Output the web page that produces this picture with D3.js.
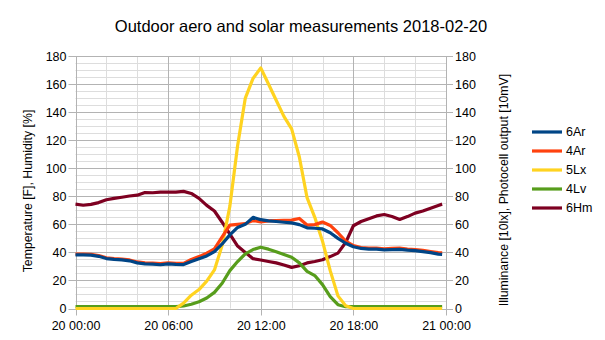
<!DOCTYPE html>
<html>
<head>
<meta charset="utf-8">
<script src="https://cdn.jsdelivr.net/npm/d3@7"></script>
<style>
  html, body { margin: 0; padding: 0; background: #fff; }
  svg { display: block; font-family: "Liberation Sans", Arial, sans-serif; }
</style>
</head>
<body>
<svg id="chart" width="605" height="340"></svg>
<script>
// Sample times, hours since 2018-02-20 00:00
const hours = [0,0.5,1,1.5,2,2.5,3,3.5,4,4.5,5,5.5,6,6.5,7,7.5,8,8.5,9,9.5,10,10.5,11,11.5,
  12,12.5,13,13.5,14,14.5,15,15.5,16,16.5,17,17.5,18,18.5,19,19.5,20,20.5,21,21.5,22,22.5,23,23.5,23.75];

const seriesNames = ["6Ar", "4Ar", "5Lx", "4Lv", "6Hm"];

const ar6 = [38.2,38.2,38,37.2,35.6,35,34.6,34,32.5,31.8,31.6,31.2,31.8,31.4,31.3,33.5,35.5,37.5,40.5,46,52.5,57.8,60,65,
  63.3,62.5,62,61.5,61,59.8,57.5,57.2,56.7,54,50,46.5,44,42.8,42.3,42.3,41.8,42,42.2,41.6,41.2,40.5,39.8,38.8,38.6];
const ar4 = [38.8,38.8,38.6,37.8,36.2,35.6,35.2,34.6,33.2,32.6,32.3,32,32.6,32.2,32.2,35,37,39.5,42.5,51,59.5,60,60.5,62.7,
  61.8,62.5,62.7,62.8,63,64.2,59.5,59.8,61.6,59.2,54,48,44.8,43.5,43,43,42.6,42.8,43,42.4,42,41.4,40.6,39.8,39.6];
const lx5 = [0,0,0,0,0,0,0,0,0,0,0,0,0,0,3.8,9.5,13.5,19.5,27.5,45,73,116,150,164,
  171.5,160,148.5,137,128,108,79,65,48,27,9,2,0,0,0,0,0,0,0,0,0,0,0,0,0];
const lv4 = [1.3,1.3,1.3,1.3,1.3,1.3,1.3,1.3,1.3,1.3,1.3,1.3,1.3,1.3,1.8,3,4.8,7.5,11.5,18,27,33.5,39,42,
  43.7,42.3,40.5,38.5,36.5,32.5,26.5,23.5,17,8.5,2.7,1.3,1.3,1.3,1.3,1.3,1.3,1.3,1.3,1.3,1.3,1.3,1.3,1.3,1.3];
const hm6 = [74.4,73.6,74.2,75.5,77.5,78.5,79.3,80.2,80.8,82.7,82.5,83,83,83,83.5,82,78.5,73.5,69.5,61.5,53,44.5,40,35.5,
  34.6,33.5,32.5,31,29.3,30.5,32.5,33.5,34.8,37,39.5,47,59,62,64,66,67,65.6,63.5,65.5,68,69.5,71.5,73.5,74.4];

const seriesValues = [ar6, ar4, lx5, lv4, hm6];
const seriesColors = ["#004586", "#ff420e", "#ffd320", "#579d1c", "#7e0021"];

const xTickHours = [0, 6, 12, 18, 24];
const xTickLabels = ["20 00:00", "20 06:00", "20 12:00", "20 18:00", "21 00:00"];
const yTicks = [0, 20, 40, 60, 80, 100, 120, 140, 160, 180];

const titleText = "Outdoor aero and solar measurements 2018-02-20";
const leftTitle = "Temperature [F], Humidity [%]";
const rightTitle = "Illuminance [10lx], Photocell output [10mV]";

const plot = { left: 75.5, right: 446, top: 56, bottom: 308.5 };

const svg = d3.select("#chart");
const x = d3.scaleLinear().domain([0, 24]).range([plot.left, plot.right]);
const y = d3.scaleLinear().domain([0, 180]).range([plot.bottom, plot.top]);
const crisp = v => Math.round(v) + 0.5;

// Grid: minor lines first, then major lines
const grid = svg.append("g");
grid.selectAll(".hmin").data(d3.range(0, 181, 5).filter(v => v % 20 !== 0)).enter()
  .append("line").attr("x1", plot.left).attr("x2", plot.right)
  .attr("y1", d => crisp(y(d))).attr("y2", d => crisp(y(d)))
  .attr("stroke", "#dddddd").attr("stroke-width", 1);
grid.selectAll(".vmin").data(d3.range(0, 25, 2).filter(v => v % 6 !== 0)).enter()
  .append("line").attr("y1", plot.top).attr("y2", plot.bottom)
  .attr("x1", d => crisp(x(d))).attr("x2", d => crisp(x(d)))
  .attr("stroke", "#dddddd").attr("stroke-width", 1);
grid.selectAll(".hmaj").data(yTicks).enter()
  .append("line").attr("x1", plot.left - 7).attr("x2", plot.right + 7)
  .attr("y1", d => crisp(y(d))).attr("y2", d => crisp(y(d)))
  .attr("stroke", "#b3b3b3").attr("stroke-width", 1);
grid.selectAll(".vmaj").data(xTickHours).enter()
  .append("line").attr("y1", plot.top).attr("y2", plot.bottom + 7)
  .attr("x1", d => crisp(x(d))).attr("x2", d => crisp(x(d)))
  .attr("stroke", "#b3b3b3").attr("stroke-width", 1);

// Axis labels
const fontSize = 12.5;
const leftAxis = d3.axisLeft(y).tickValues(yTicks).tickSize(0).tickPadding(9);
const rightAxis = d3.axisRight(y).tickValues(yTicks).tickSize(0).tickPadding(9);
const bottomAxis = d3.axisBottom(x).tickValues(xTickHours).tickSize(0).tickPadding(13)
  .tickFormat((d, i) => xTickLabels[i]);

function styleAxis(g) {
  g.select(".domain").remove();
  g.selectAll("text").attr("fill", "#000").style("font-size", fontSize + "px")
    .style("font-family", "'Liberation Sans', Arial, sans-serif");
}
svg.append("g").attr("transform", `translate(${plot.left},0)`).call(leftAxis).call(styleAxis);
svg.append("g").attr("transform", `translate(${plot.right},0)`).call(rightAxis).call(styleAxis);
svg.append("g").attr("transform", `translate(0,${plot.bottom})`).call(bottomAxis).call(styleAxis);

// Series lines (later legend entries drawn underneath)
const line = d3.line().x((d, i) => x(hours[i])).y(d => y(d));
const lines = svg.append("g");
for (let s = seriesNames.length - 1; s >= 0; s--) {
  lines.append("path").datum(seriesValues[s])
    .attr("d", line).attr("fill", "none")
    .attr("stroke", seriesColors[s]).attr("stroke-width", 3.2)
    .attr("stroke-linejoin", "round").attr("stroke-linecap", "butt");
}

// Titles
svg.append("text").attr("x", 301).attr("y", 32).attr("text-anchor", "middle")
  .style("font-size", "16.5px").attr("fill", "#000").text(titleText);
svg.append("text").attr("transform", "translate(28,191) rotate(-90)")
  .attr("text-anchor", "middle").attr("dominant-baseline", "central")
  .style("font-size", "12.3px").attr("fill", "#000").text(leftTitle);
svg.append("text").attr("transform", "translate(504,190) rotate(-90)")
  .attr("text-anchor", "middle").attr("dominant-baseline", "central")
  .style("font-size", "12.3px").attr("fill", "#000").text(rightTitle);

// Legend
const legend = svg.append("g");
seriesNames.forEach((name, i) => {
  const ly = 132 + i * 19;
  legend.append("line").attr("x1", 532).attr("x2", 562).attr("y1", ly).attr("y2", ly)
    .attr("stroke", seriesColors[i]).attr("stroke-width", 3.2);
  legend.append("text").attr("x", 566).attr("y", ly).attr("dominant-baseline", "central")
    .style("font-size", fontSize + "px").attr("fill", "#000").text(name);
});
</script>
</body>
</html>
